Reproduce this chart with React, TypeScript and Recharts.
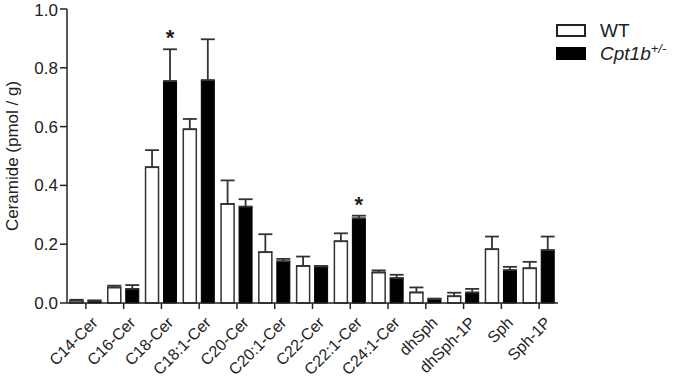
import { BarChart, Bar, XAxis, YAxis, ErrorBar, Legend, LabelList, Label } from 'recharts';

// Sphingolipid levels, WT vs Cpt1b+/- (mean + SEM, upper error only)
const categories = [
  'C14-Cer', 'C16-Cer', 'C18-Cer', 'C18:1-Cer', 'C20-Cer', 'C20:1-Cer', 'C22-Cer',
  'C22:1-Cer', 'C24:1-Cer', 'dhSph', 'dhSph-1P', 'Sph', 'Sph-1P',
];
const wtValues = [0.008, 0.053, 0.462, 0.591, 0.337, 0.173, 0.126, 0.21, 0.104, 0.036, 0.023, 0.183, 0.118];
const wtErrors = [0.003, 0.006, 0.058, 0.035, 0.08, 0.061, 0.032, 0.027, 0.007, 0.017, 0.012, 0.043, 0.022];
const koValues = [0.007, 0.048, 0.755, 0.758, 0.328, 0.142, 0.124, 0.288, 0.085, 0.013, 0.036, 0.112, 0.18];
const koErrors = [0.002, 0.013, 0.108, 0.139, 0.025, 0.008, 0.002, 0.009, 0.011, 0.002, 0.012, 0.011, 0.046];
const significant = [false, false, true, false, false, false, false, true, false, false, false, false, false];
const yTicks = [0, 0.2, 0.4, 0.6, 0.8, 1.0];

const data = categories.map((name, i) => ({
  name,
  wt: wtValues[i],
  wtErr: [0, wtErrors[i]],
  ko: koValues[i],
  koErr: [0, koErrors[i]],
}));

const FONT = '"Liberation Sans", Arial, sans-serif';
const INK = '#222';

const XTick = (props: any) => {
  const { x, y, payload } = props;
  return (
    <g transform={`translate(${x + 5},${y + 5})`}>
      <text x={0} y={0} textAnchor="end" transform="rotate(-45)" fontSize={16} fontFamily={FONT} fill={INK} dy={11}>
        {payload.value}
      </text>
    </g>
  );
};

const Star = (props: any) => {
  const { x, y, width, height, value, index } = props;
  if (!significant[index] || !value) return null;
  const pxPerUnit = height / value;
  const top = y - koErrors[index] * pxPerUnit;
  return (
    <text x={x + width / 2} y={top - 4} textAnchor="middle" fontSize={22} fontWeight="bold" fontFamily={FONT} fill={INK}>
      *
    </text>
  );
};

const LegendBox = () => (
  <div style={{ fontFamily: FONT, color: INK, fontSize: 19, lineHeight: '23px' }}>
    <div style={{ display: 'flex', alignItems: 'center', height: 23 }}>
      <span style={{ width: 26, height: 9, border: '2px solid #222', background: '#fff', marginRight: 14 }} />
      WT
    </div>
    <div style={{ display: 'flex', alignItems: 'center', height: 23 }}>
      <span style={{ width: 26, height: 9, border: '2px solid #000', background: '#000', marginRight: 14 }} />
      <i>Cpt1b<sup style={{ fontSize: 13, lineHeight: 0 }}>+/-</sup></i>
    </div>
  </div>
);

export default function App() {
  return (
    <div style={{ position: 'absolute', left: 0, top: 0 }}>
      <BarChart
        width={700}
        height={387}
        data={data}
        margin={{ top: 9, right: 2, bottom: 0, left: 0 }}
        barSize={13}
        barGap={5}
      >
        <XAxis
          dataKey="name"
          interval={0}
          height={84}
          tick={<XTick />}
          tickSize={6}
          tickLine={{ stroke: INK, strokeWidth: 1.5 }}
          axisLine={{ stroke: INK, strokeWidth: 1.5 }}
        />
        <YAxis
          width={67}
          domain={[0, 1]}
          ticks={yTicks}
          tickFormatter={(v: number) => v.toFixed(1)}
          tickSize={7}
          tickLine={{ stroke: INK, strokeWidth: 1.5 }}
          axisLine={{ stroke: INK, strokeWidth: 1.5 }}
          tick={{ fill: INK, fontSize: 17, fontFamily: FONT }}
        >
          <Label
            content={(p: any) => {
              const vb = p.viewBox;
              const cx = vb.x + 12;
              const cy = vb.y + vb.height / 2;
              return (
                <text x={cx} y={cy} textAnchor="middle" dominantBaseline="central" transform={`rotate(-90, ${cx}, ${cy})`} fontSize={17} fontFamily={FONT} fill={INK}>
                  Ceramide (pmol / g)
                </text>
              );
            }}
          />
        </YAxis>
        <Legend content={<LegendBox />} layout="vertical" verticalAlign="top" align="right" wrapperStyle={{ top: 19, left: 556, width: 140 }} />
        <Bar dataKey="wt" name="WT" fill="#fff" stroke="#333" strokeWidth={1.5} isAnimationActive={false}>
          <ErrorBar dataKey="wtErr" width={7} stroke="#333" strokeWidth={1.8} direction="y" />
        </Bar>
        <Bar dataKey="ko" name="Cpt1b+/-" fill="#000" stroke="#000" strokeWidth={1} isAnimationActive={false}>
          <ErrorBar dataKey="koErr" width={7} stroke="#333" strokeWidth={1.8} direction="y" />
          <LabelList dataKey="ko" content={<Star />} />
        </Bar>
      </BarChart>
    </div>
  );
}
